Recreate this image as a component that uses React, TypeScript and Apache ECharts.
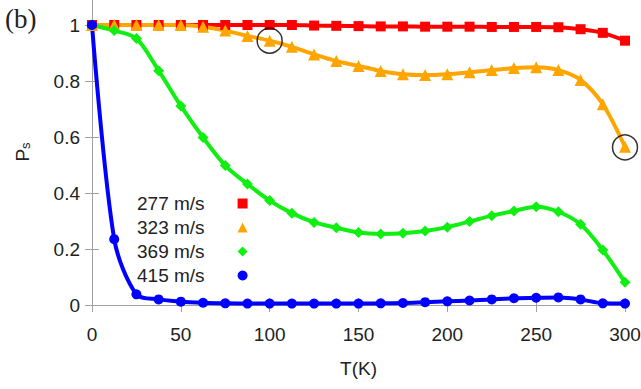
import React, { useEffect, useRef } from "react";
import * as echarts from "echarts";

const temps = [0, 12.5, 25, 37.5, 50, 62.5, 75, 87.5, 100, 112.5, 125, 137.5, 150, 162.5, 175, 187.5, 200, 212.5, 225, 237.5, 250, 262.5, 275, 287.5, 300];

const v277 = [1, 1, 1, 1, 1, 1, 1, 1, 1, 1, 0.998, 0.997, 0.996, 0.995, 0.995, 0.994, 0.994, 0.994, 0.993, 0.993, 0.993, 0.992, 0.985, 0.972, 0.944];
const v323 = [1, 1, 1, 1, 1, 0.994, 0.98, 0.961, 0.944, 0.922, 0.895, 0.871, 0.854, 0.836, 0.824, 0.821, 0.824, 0.831, 0.839, 0.846, 0.849, 0.839, 0.804, 0.717, 0.565];
const v369 = [1, 0.98, 0.952, 0.837, 0.711, 0.598, 0.498, 0.432, 0.373, 0.328, 0.295, 0.276, 0.259, 0.254, 0.256, 0.264, 0.278, 0.298, 0.319, 0.336, 0.351, 0.333, 0.288, 0.196, 0.081];
const v415 = [1, 0.235, 0.038, 0.02, 0.012, 0.008, 0.006, 0.005, 0.005, 0.005, 0.005, 0.005, 0.005, 0.006, 0.007, 0.01, 0.013, 0.016, 0.02, 0.024, 0.026, 0.027, 0.02, 0.006, 0.005];

const seriesNames = ["277 m/s", "323 m/s", "369 m/s", "415 m/s"];
const seriesValues = [v277, v323, v369, v415];
const seriesColors = ["#ff0000", "#ffa500", "#11ee11", "#0000ff"];
const seriesSymbols = ["rect", "triangle", "diamond", "circle"];
const symbolSizes = [10, 12, 11, 10];

const circledPoints = [[100, 0.944], [300, 0.563]];

const axisGray = "#a0a0a0";
const textColor = "#222";
const sans = "'Liberation Sans', Arial, sans-serif";

export default function App() {
  const ref = useRef<HTMLDivElement>(null);
  useEffect(() => {
    if (!ref.current) return;
    const chart = echarts.init(ref.current, null, { renderer: "svg" });
    const lineSeries = seriesNames.map((name, i) => ({
      name,
      type: "line",
      xAxisIndex: 0,
      yAxisIndex: 0,
      data: temps.map((t, j) => [t, seriesValues[i][j]]),
      smooth: 0.3,
      symbol: seriesSymbols[i],
      symbolSize: symbolSizes[i],
      showAllSymbol: true,
      lineStyle: { color: seriesColors[i], width: 4 },
      itemStyle: { color: seriesColors[i] },
      clip: false,
    }));
    chart.setOption({
      animation: false,
      backgroundColor: "#fff",
      grid: { left: 92, right: 16, top: -3, bottom: 84, containLabel: false, outerBoundsMode: "none" },
      graphic: [
        {
          type: "text",
          left: 5,
          top: 5,
          style: { text: "(b)", font: "27px 'Liberation Serif', serif", fill: textColor },
        },
        {
          type: "text",
          x: 22,
          y: 152,
          rotation: Math.PI / 2,
          style: {
            text: "{p|P}{s|s}",
            align: "center",
            verticalAlign: "middle",
            rich: {
              p: { fontFamily: sans, fontSize: 19, fill: textColor, lineHeight: 19, verticalAlign: "top" },
              s: { fontFamily: sans, fontSize: 13, fill: textColor, lineHeight: 19, verticalAlign: "bottom", padding: [0, 0, 0, 0] },
            },
          },
        },
      ],
      legend: {
        orient: "vertical",
        left: 132,
        top: 189,
        align: "right",
        itemWidth: 10,
        itemHeight: 10,
        itemGap: 5,
        data: seriesNames.map((n, i) => ({ name: n, icon: seriesSymbols[i] })),
        textStyle: {
          fontFamily: sans,
          fontSize: 19,
          lineHeight: 19,
          color: textColor,
          padding: [0, 28, 0, 0],
        },
      },
      xAxis: [
        {
          type: "value",
          min: 0,
          max: 300,
          interval: 50,
          position: "bottom",
          name: "T(K)",
          nameLocation: "middle",
          nameGap: 54,
          nameTextStyle: { fontFamily: sans, fontSize: 19, color: textColor },
          axisLine: { show: true, lineStyle: { color: axisGray, width: 1 } },
          axisTick: { show: true, inside: true, length: 7, lineStyle: { color: axisGray } },
          axisLabel: { margin: 20, fontFamily: sans, fontSize: 19, color: textColor },
          splitLine: { show: false },
        },
        {
          type: "value",
          min: 0,
          max: 300,
          interval: 50,
          position: "top",
          axisLine: { show: true, lineStyle: { color: axisGray, width: 1 } },
          axisTick: { show: true, inside: true, length: 7, lineStyle: { color: axisGray } },
          axisLabel: { show: false },
          splitLine: { show: false },
        },
      ],
      yAxis: [
        {
          type: "value",
          min: 0,
          max: 1.1,
          interval: 0.2,
          position: "left",
          axisLine: { show: true, lineStyle: { color: axisGray, width: 1 } },
          axisTick: { show: true, inside: true, length: 7, lineStyle: { color: axisGray } },
          axisLabel: {
            margin: 12,
            showMaxLabel: false,
            fontFamily: sans,
            fontSize: 19,
            color: textColor,
            formatter: (v: number) => String(Math.round(v * 10) / 10),
          },
          splitLine: { show: false },
        },
        {
          type: "value",
          min: 0,
          max: 1.1,
          interval: 0.2,
          position: "right",
          axisLine: { show: true, lineStyle: { color: axisGray, width: 1 } },
          axisTick: { show: true, inside: true, length: 7, lineStyle: { color: axisGray } },
          axisLabel: { show: false },
          splitLine: { show: false },
        },
      ],
      series: [
        ...lineSeries,
        {
          name: "circled",
          type: "scatter",
          xAxisIndex: 0,
          yAxisIndex: 0,
          data: circledPoints,
          symbol: "circle",
          symbolSize: 25,
          itemStyle: { color: "rgba(0,0,0,0)", borderColor: "#000", borderWidth: 1.5 },
          z: 5,
          clip: false,
          silent: true,
        },
      ],
    });
    return () => chart.dispose();
  }, []);
  return (
    <div
      ref={ref}
      style={{ position: "fixed", left: 0, top: 0, width: 641, height: 389 }}
    />
  );
}
